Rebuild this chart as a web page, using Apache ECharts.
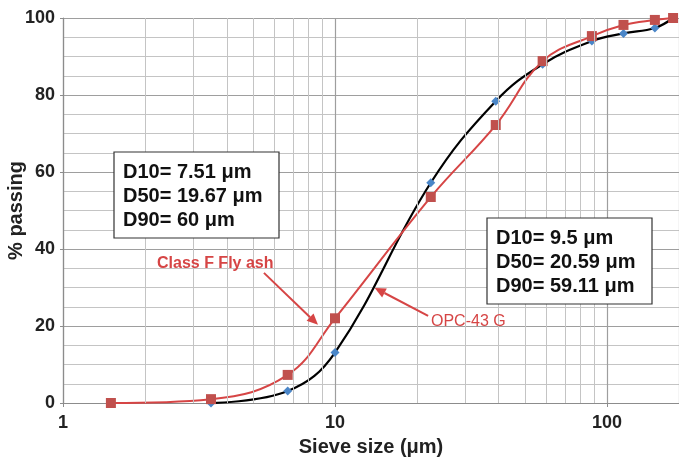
<!DOCTYPE html>
<html>
<head>
<meta charset="utf-8">
<script src="https://cdn.jsdelivr.net/npm/echarts@6/dist/echarts.min.js"></script>
<style>
  html, body { margin: 0; padding: 0; background: #fff; }
  #chart { width: 679px; height: 460px; }
</style>
</head>
<body>
<div id="chart"></div>
<script>
// Particle size distribution: cumulative % passing vs sieve size (log scale)
const flyAshSizes = [1.5, 3.5, 6.7, 10, 22.5, 39, 58, 88, 115, 150, 175];
const flyAshPassing = [0, 1, 7.3, 22, 53.5, 72.2, 88.8, 95.3, 98.2, 99.5, 100];
const opcSizes = [3.5, 6.7, 10, 22.5, 39, 58, 88, 115, 150, 175];
const opcPassing = [0, 3.1, 13.1, 57.2, 78.4, 88, 94, 96, 97.4, 100];

// Intermediate log grid lines between decades
const minorSizes = [2, 3, 4, 5, 6, 7, 8, 9, 20, 30, 40, 50, 60, 70, 80, 90];

const flyAshStats = ['D10= 7.51 μm', 'D50= 19.67 μm', 'D90= 60 μm'];
const opcStats = ['D10= 9.5 μm', 'D50= 20.59 μm', 'D90= 59.11 μm'];

const FONT = '"Liberation Sans", Arial, sans-serif';
const RED = '#d64545';

const pairs = (xs, ys) => xs.map((x, i) => [x, ys[i]]);

const chart = echarts.init(document.getElementById('chart'), null, { renderer: 'canvas' });

chart.setOption({
  animation: false,
  backgroundColor: '#fff',
  grid: { left: 63, right: 0, top: 18, bottom: 57, containLabel: false, outerBoundsMode: 'none' },
  xAxis: {
    type: 'log',
    logBase: 10,
    min: 1,
    max: 184,
    name: 'Sieve size (μm)',
    nameLocation: 'middle',
    nameGap: 34,
    nameMoveOverlap: false,
    nameTextStyle: { fontFamily: FONT, fontWeight: 'bold', fontSize: 20, color: '#222' },
    axisLine: { show: true, lineStyle: { color: '#8c8c8c', width: 1.2 } },
    axisTick: { show: true, length: 4, lineStyle: { color: '#8c8c8c' } },
    axisLabel: {
      fontFamily: FONT, fontWeight: 'bold', fontSize: 18, color: '#222', margin: 11,
      formatter: v => (v === 1 || v === 10 || v === 100) ? String(v) : ''
    },
    splitLine: { show: true, lineStyle: { color: '#9e9e9e', width: 1.2 } }
  },
  yAxis: {
    type: 'value',
    min: 0,
    max: 100,
    interval: 20,
    name: '% passing',
    nameLocation: 'middle',
    nameGap: 37,
    nameMoveOverlap: false,
    nameTextStyle: { fontFamily: FONT, fontWeight: 'bold', fontSize: 20, color: '#222' },
    axisLine: { show: true, lineStyle: { color: '#8c8c8c', width: 1.2 } },
    axisTick: { show: true, length: 3, lineStyle: { color: '#8c8c8c' } },
    axisLabel: { fontFamily: FONT, fontWeight: 'bold', fontSize: 18, color: '#222', margin: 8 },
    splitLine: { show: true, lineStyle: { color: '#9e9e9e', width: 1.2 } },
    minorTick: { show: false, splitNumber: 4 },
    minorSplitLine: { show: true, lineStyle: { color: '#c4c4c4', width: 1 } }
  },
  series: [
    {
      name: 'grid',
      type: 'line',
      data: [],
      silent: true,
      z: 1,
      markLine: {
        silent: true,
        symbol: ['none', 'none'],
        label: { show: false },
        lineStyle: { color: '#c4c4c4', width: 1, type: 'solid' },
        data: minorSizes.map(v => ({ xAxis: v }))
      }
    },
    {
      name: 'OPC-43 G',
      type: 'line',
      data: pairs(opcSizes, opcPassing),
      smooth: 0.4,
      z: 3,
      symbol: 'diamond',
      symbolSize: 9,
      lineStyle: { color: '#000', width: 2.2 },
      itemStyle: { color: '#4a86c8' }
    },
    {
      name: 'Class F Fly ash',
      type: 'line',
      data: pairs(flyAshSizes, flyAshPassing),
      smooth: 0.4,
      z: 4,
      symbol: 'rect',
      symbolSize: 10,
      lineStyle: { color: RED, width: 2 },
      itemStyle: { color: '#c0504d' }
    }
  ]
});

// Arrow helper: shaft plus triangular head, endpoints given in data space
function arrow(from, to, color) {
  const p0 = chart.convertToPixel({ gridIndex: 0 }, from);
  const p1 = chart.convertToPixel({ gridIndex: 0 }, to);
  const dx = p1[0] - p0[0], dy = p1[1] - p0[1];
  const len = Math.hypot(dx, dy);
  const ux = dx / len, uy = dy / len;
  const hl = 11, hw = 5;
  const bx = p1[0] - ux * hl, by = p1[1] - uy * hl;
  return [
    { type: 'line', silent: true, z: 10,
      shape: { x1: p0[0], y1: p0[1], x2: bx, y2: by },
      style: { stroke: color, lineWidth: 2 } },
    { type: 'polygon', silent: true, z: 10,
      shape: { points: [[p1[0], p1[1]], [bx - uy * hw, by + ux * hw], [bx + uy * hw, by - ux * hw]] },
      style: { fill: color } }
  ];
}

function statsBox(x, y, w, h, lines) {
  const items = [{
    type: 'rect', silent: true, z: 20,
    shape: { x: x, y: y, width: w, height: h },
    style: { fill: '#fff', stroke: '#333', lineWidth: 1.2 }
  }];
  lines.forEach((t, i) => items.push({
    type: 'text', silent: true, z: 21,
    x: x + 9, y: y + 20 + i * 24,
    style: { text: t, font: 'bold 20px ' + FONT, fill: '#111', textVerticalAlign: 'middle' }
  }));
  return items;
}

chart.setOption({
  graphic: [
    ...statsBox(114, 152, 165, 86, flyAshStats),
    ...statsBox(487, 218, 165, 86, opcStats),
    { type: 'text', silent: true, z: 10, x: 157, y: 264,
      style: { text: 'Class F Fly ash', font: 'bold 16px ' + FONT, fill: RED, textVerticalAlign: 'middle' } },
    ...arrow([5.48, 33.8], [8.66, 20.3], RED),
    { type: 'text', silent: true, z: 10, x: 431, y: 322,
      style: { text: 'OPC-43 G', font: '16px ' + FONT, fill: RED, textVerticalAlign: 'middle' } },
    ...arrow([22.0, 22.6], [14.0, 29.9], RED)
  ]
});
</script>
</body>
</html>
